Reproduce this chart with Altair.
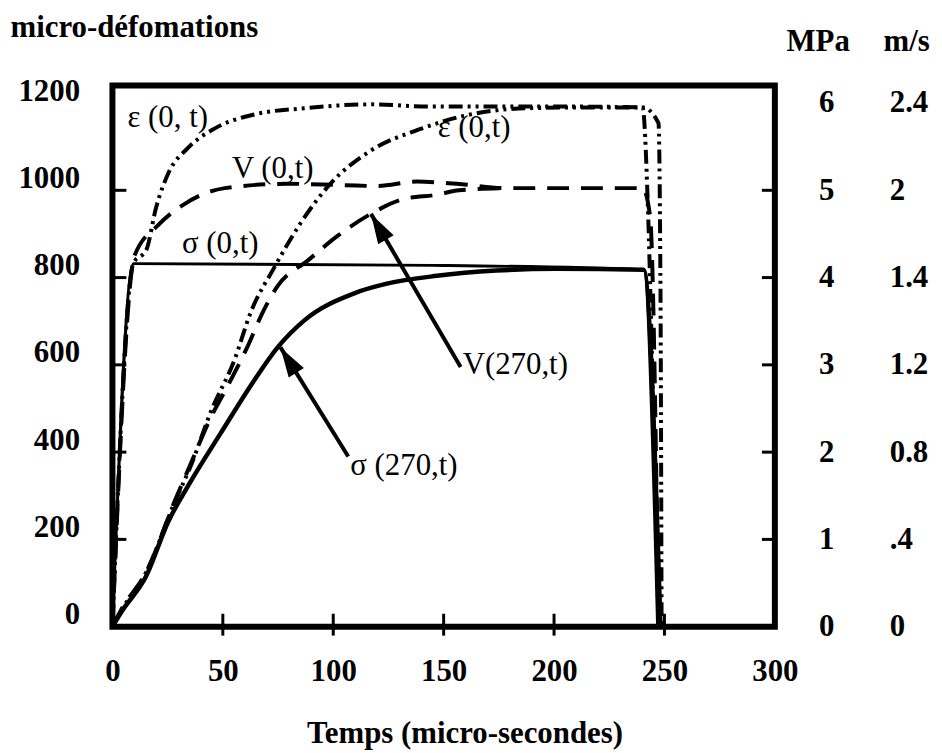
import altair as alt
import pandas as pd

# ---------------- data ----------------
# time in micro-seconds
eps0_t = [0, 9.5, 15.3, 19.8, 25.2, 34.2, 46.4, 64.4, 86.9, 116.7, 143.7, 204.1, 240.1, 247.3, 248.2, 248.7]
eps0_v = [0, 833, 863, 961, 1038, 1097, 1142, 1174, 1188, 1197, 1192, 1192, 1190, 1154, 770, 0]

eps270_t = [0, 4.1, 15.3, 28.4, 35.6, 44.6, 55.4, 62.6, 73.4, 85.1, 98.7, 116.7, 139.2, 160.4, 187.4, 215, 240.1, 242.4, 244.6, 247.3]
eps270_v = [0, 38, 125, 288, 370, 493, 613, 720, 824, 924, 1015, 1090, 1140, 1172, 1188, 1190, 1190, 977, 568, 0]

sig0_t = [0, 9.5, 145, 240.6, 246.9]
sig0_v = [0, 4.16, 4.14, 4.09, 0]          # MPa

sig270_t = [0, 4.1, 15.3, 25.2, 34.2, 49.1, 64.4, 74.8, 86.9, 109.5, 124.3, 146.9, 173.9, 200.9, 240.6, 248.2]
sig270_v = [0, 0.17, 0.58, 1.20, 1.61, 2.22, 2.83, 3.20, 3.51, 3.82, 3.93, 4.02, 4.08, 4.10, 4.09, 0]

v0_t = [0, 10, 20.7, 31.5, 50.9, 79.3, 119.8, 137.9, 155.9, 178.4, 240.1, 243.5, 247.3]
v0_v = [0, 1.70, 1.84, 1.93, 2.01, 2.03, 2.02, 2.04, 2.03, 2.01, 2.01, 1.88, 0]   # m/s

v270_t = [0, 4.1, 15.3, 28.4, 35.6, 44.6, 52, 61, 68.5, 74.7, 88.7, 101.8, 116.7, 132, 147, 157, 178]
v270_v = [0, 0.08, 0.25, 0.58, 0.75, 0.96, 1.10, 1.28, 1.45, 1.56, 1.68, 1.79, 1.89, 1.96, 1.98, 2.00, 2.01]

x_ticks = [0, 50, 100, 150, 200, 250, 300]
left_ticks = [0, 200, 400, 600, 800, 1000, 1200]
mpa_ticks = [0, 1, 2, 3, 4, 5, 6]
ms_ticks = [0, 0.4, 0.8, 1.2, 1.6, 2.0, 2.4]
ms_labels = ["0", ".4", "0.8", "1.2", "1.4", "2", "2.4"]

ann_text = ["ε (0, t)", "V (0,t)", "σ (0,t)", "ε (0,t)", "σ (270,t)", "V(270,t)"]
ann_t = [6.8, 54.1, 31.5, 147.3, 107.7, 158.6]
ann_v = [1165, 1048, 877, 1142, 369, 599]

arrow_id = ["sig", "sig", "vel", "vel"]
arrow_t = [106.8, 76.1, 157.7, 117.1]
arrow_v = [390, 640, 595, 946]

# ---------------- layout / style ----------------
W, H = 666, 544
FONT = "Liberation Serif"
T_DOM = [0, 300]
S_DOM = [0, 1240]
P_DOM = [0, 6.2]
V_DOM = [0, 2.48]

def frame(ts, vs, name):
    return pd.DataFrame({"t": ts, "y": vs, "series": name})

strain_df = pd.concat([frame(eps0_t, eps0_v, "eps0"), frame(eps270_t, eps270_v, "eps270")])
stress_df = pd.concat([frame(sig0_t, sig0_v, "sig0"), frame(sig270_t, sig270_v, "sig270")])
vel_df = pd.concat([frame(v0_t, v0_v, "v0"), frame(v270_t, v270_v, "v270")])
ann_df = pd.DataFrame({"t": ann_t, "y": ann_v, "label": ann_text})
arrow_df = pd.DataFrame({"t": arrow_t, "y": arrow_v, "arrow": arrow_id})

x_axis = alt.Axis(
    values=x_ticks, format="d", title="Temps (micro-secondes)",
    domain=False, ticks=False, tickSize=0, grid=False,
    labelFont=FONT, labelFontSize=31, labelFontWeight="bold", labelColor="black",
    labelPadding=30, labelFlush=False, labelOverlap=False,
    titleFont=FONT, titleFontSize=31, titleFontWeight="bold", titleColor="black",
    titleX=354, titleY=107, titleAlign="center", titleBaseline="middle",
)
X = alt.X("t:Q", scale=alt.Scale(domain=T_DOM, nice=False, zero=False), axis=x_axis)

def ys(dom, axis=None):
    if axis is None:
        return alt.Y("y:Q", scale=alt.Scale(domain=dom, nice=False, zero=False), axis=None)
    return alt.Y("y:Q", scale=alt.Scale(domain=dom, nice=False, zero=False), axis=axis)

left_axis = alt.Axis(
    orient="left", values=left_ticks, format="d", title="micro-défomations",
    domain=False, ticks=False, tickSize=0, grid=False,
    labelFont=FONT, labelFontSize=31, labelFontWeight="bold", labelColor="black",
    labelPadding=33, labelOffset=-12, labelOverlap=False,
    titleFont=FONT, titleFontSize=31, titleFontWeight="bold", titleColor="black",
    titleAngle=0, titleX=-103, titleY=-58, titleAlign="left", titleBaseline="middle",
)
mpa_axis = alt.Axis(
    orient="right", values=mpa_ticks, format="d", title="MPa",
    domain=False, ticks=False, tickSize=0, grid=False,
    labelFont=FONT, labelFontSize=31, labelFontWeight="bold", labelColor="black",
    labelPadding=44, labelAlign="left", labelOverlap=False,
    titleFont=FONT, titleFontSize=31, titleFontWeight="bold", titleColor="black",
    titleAngle=0, titleX=43, titleY=-44, titleAlign="center", titleBaseline="middle",
)
ms_expr = "''"
for v, lab in reversed(list(zip(ms_ticks, ms_labels))):
    ms_expr = f"round(datum.value*10)=={round(v * 10)} ? '{lab}' : ({ms_expr})"
ms_axis = alt.Axis(
    orient="right", values=ms_ticks, title="m/s", labelExpr=ms_expr,
    domain=False, ticks=False, tickSize=0, grid=False,
    labelFont=FONT, labelFontSize=31, labelFontWeight="bold", labelColor="black",
    labelPadding=115, labelAlign="left", labelOverlap=False,
    titleFont=FONT, titleFontSize=31, titleFontWeight="bold", titleColor="black",
    titleAngle=0, titleX=132, titleY=-44, titleAlign="center", titleBaseline="middle",
)

strain = alt.Chart(strain_df).mark_line(
    color="black", strokeWidth=4, strokeDash=[14, 5, 3, 5, 3, 5], interpolate="monotone"
).encode(x=X, y=ys(S_DOM, left_axis), detail="series:N")

stress = alt.Chart(stress_df).mark_line(color="black", interpolate="monotone").encode(
    x=X, y=ys(P_DOM, mpa_axis), detail="series:N",
    strokeWidth=alt.StrokeWidth("series:N", scale=alt.Scale(domain=["sig0", "sig270"], range=[3, 4.5]), legend=None),
)

vel = alt.Chart(vel_df).mark_line(
    color="black", strokeWidth=4, strokeDash=[22, 12], interpolate="monotone"
).encode(x=X, y=ys(V_DOM, ms_axis), detail="series:N")

ann = alt.Chart(ann_df).mark_text(
    align="left", baseline="middle", font=FONT, fontSize=31, color="black"
).encode(x=X, y=ys(S_DOM), text="label:N")

arrow_lines = alt.Chart(arrow_df).mark_line(color="black", strokeWidth=4).encode(
    x=X, y=ys(S_DOM), detail="arrow:N"
)
HEAD = "M0,0 L-0.3,1 L0.3,1 Z"
head_sig = alt.Chart(arrow_df.iloc[[1]]).mark_point(
    shape=HEAD, filled=True, color="black", opacity=1, size=3600, angle=328
).encode(x=X, y=ys(S_DOM))
head_vel = alt.Chart(arrow_df.iloc[[3]]).mark_point(
    shape=HEAD, filled=True, color="black", opacity=1, size=3600, angle=330
).encode(x=X, y=ys(S_DOM))

# inward tick marks on the frame
lt = alt.Chart(pd.DataFrame({"y": left_ticks[1:-1]})).mark_rule(color="black", strokeWidth=3).encode(
    y=ys(S_DOM), x=alt.value(0), x2=alt.value(14)
)
rt = alt.Chart(pd.DataFrame({"y": mpa_ticks[1:-1]})).mark_rule(color="black", strokeWidth=3).encode(
    y=ys(P_DOM), x=alt.value(W - 13), x2=alt.value(W)
)
bt = alt.Chart(pd.DataFrame({"t": x_ticks[1:-1]})).mark_rule(color="black", strokeWidth=3).encode(
    x=X, y=alt.value(H - 13), y2=alt.value(H + 9)
)

chart = alt.layer(
    strain, stress, vel, ann, arrow_lines, head_sig, head_vel, lt, rt, bt
).resolve_scale(y="independent").properties(
    width=W, height=H,
    autosize=alt.AutoSizeParams(type="none"),
    padding={"left": 105, "top": 76, "right": 160, "bottom": 124},
    background="white",
).configure_view(stroke="black", strokeWidth=6)

chart.save("out.html", embed_options={"renderer": "svg", "actions": False})
